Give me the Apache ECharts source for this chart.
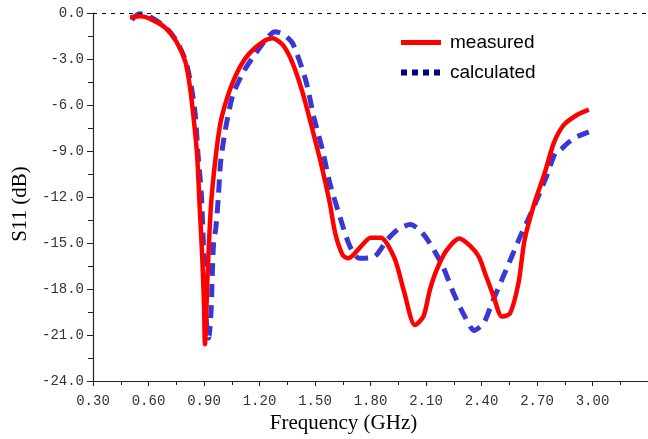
<!DOCTYPE html>
<html>
<head>
<meta charset="utf-8">
<script src="https://cdn.jsdelivr.net/npm/echarts@6/dist/echarts.min.js"></script>
<style>html,body{margin:0;padding:0;background:#fff}#c{width:648px;height:439px}</style>
</head>
<body>
<div id="c"></div>
<script>
const xTickLabels = ['0.30','0.60','0.90','1.20','1.50','1.80','2.10','2.40','2.70','3.00'];
const yTickLabels = ['0.0','-3.0','-6.0','-9.0','-12.0','-15.0','-18.0','-21.0','-24.0'];

const freqMeasured = [0.50,0.56,0.62,0.69,0.75,0.80,0.825,0.846,0.863,0.876,0.89,0.90,0.905,0.92,0.938,0.964,0.99,1.026,1.06,1.10,1.148,1.22,1.27,1.327,1.38,1.433,1.486,1.54,1.58,1.61,1.65,1.68,1.75,1.80,1.856,1.93,1.98,2.04,2.086,2.12,2.156,2.21,2.28,2.34,2.386,2.42,2.466,2.51,2.554,2.60,2.633,2.686,2.74,2.79,2.845,2.916,2.98];
const s11Measured  = [-0.30,-0.22,-0.45,-0.95,-1.85,-3.2,-4.9,-7.1,-9.3,-12.5,-15.8,-19.0,-21.6,-16.9,-12.5,-9.3,-7.1,-5.5,-4.4,-3.4,-2.6,-1.87,-1.65,-2.1,-3.3,-5.2,-7.6,-10.2,-12.4,-14.4,-15.8,-16.0,-15.2,-14.65,-14.65,-16.0,-18.1,-20.35,-19.8,-18.1,-16.8,-15.5,-14.7,-15.2,-15.9,-17.0,-18.5,-19.8,-19.6,-17.6,-14.8,-12.4,-10.5,-8.5,-7.3,-6.65,-6.3];

const freqCalculated = [0.51,0.55,0.60,0.69,0.75,0.80,0.83,0.853,0.867,0.885,0.895,0.902,0.912,0.925,0.938,0.945,0.952,0.964,0.977,0.99,1.017,1.056,1.115,1.167,1.23,1.283,1.33,1.38,1.45,1.494,1.54,1.58,1.635,1.688,1.74,1.82,1.89,1.95,2.015,2.07,2.12,2.19,2.25,2.31,2.36,2.413,2.457,2.51,2.563,2.616,2.67,2.75,2.80,2.83,2.864,2.916,2.98];
const s11Calculated  = [-0.45,-0.05,-0.2,-0.9,-1.8,-3.1,-4.7,-6.65,-9.1,-11.7,-14.5,-17.0,-20.0,-21.2,-19.5,-17.0,-15.0,-14.0,-12.1,-9.7,-7.5,-5.35,-3.8,-2.85,-1.8,-1.22,-1.4,-2.0,-4.4,-6.8,-8.9,-11.1,-13.3,-15.2,-16.0,-15.9,-14.8,-14.1,-13.8,-14.2,-15.0,-16.5,-18.3,-19.8,-20.7,-20.2,-18.9,-17.4,-15.9,-14.4,-13.0,-10.7,-9.1,-8.9,-8.5,-8.07,-7.75];

const seriesNames = ['measured','calculated'];
const referenceLevel = 0;

const pairs = (xs, ys) => xs.map((x, i) => [x, ys[i]]);

const chart = echarts.init(document.getElementById('c'), null, {renderer: 'canvas'});
const tickFont = {fontFamily: 'Liberation Mono', fontSize: 14, color: '#333'};

chart.setOption({
  animation: false,
  backgroundColor: '#fff',
  grid: {left: 93, right: -8, top: 13, bottom: 58, containLabel: false},
  legend: {
    orient: 'vertical',
    left: 393,
    top: 28,
    itemWidth: 40,
    itemHeight: 20,
    itemGap: 11,
    textStyle: {fontFamily: 'Liberation Sans', fontSize: 19, color: '#000', padding: [0, 0, 0, 4]},
    data: [
      {name: seriesNames[0], itemStyle: {opacity: 0}, lineStyle: {color: '#ff0000', width: 5, type: 'solid', opacity: 1}},
      {name: seriesNames[1], itemStyle: {opacity: 0}, lineStyle: {color: '#000080', width: 6, type: [6, 5], cap: 'butt', opacity: 1}}
    ]
  },
  xAxis: {
    type: 'value',
    min: 0.3, max: 3.3, interval: 0.3,
    name: 'Frequency (GHz)',
    nameLocation: 'middle',
    nameGap: 28,
    nameTextStyle: {fontFamily: 'Liberation Serif', fontSize: 21, color: '#000', padding: [0, 54, 0, 0]},
    axisLine: {show: true, onZero: false, lineStyle: {color: '#222', width: 1.2}},
    axisTick: {show: true, inside: false, length: 5, lineStyle: {color: '#222'}},
    minorTick: {show: true, splitNumber: 2, length: 4, lineStyle: {color: '#222'}},
    splitLine: {show: false},
    axisLabel: Object.assign({margin: 13, showMaxLabel: false,
      formatter: (v) => { const i = Math.round((v - 0.3) / 0.3); return xTickLabels[i] || ''; }}, tickFont)
  },
  yAxis: {
    type: 'value',
    min: -24, max: 0, interval: 3,
    name: 'S11 (dB)',
    nameLocation: 'middle',
    nameGap: 51,
    nameRotate: 90,
    nameTextStyle: {fontFamily: 'Liberation Serif', fontSize: 21, color: '#000', padding: [0, 14, 0, 0]},
    axisLine: {show: true, lineStyle: {color: '#222', width: 1.2}},
    axisTick: {show: true, inside: false, length: 6, lineStyle: {color: '#222'}},
    minorTick: {show: true, splitNumber: 2, length: 5, lineStyle: {color: '#222'}},
    splitLine: {show: false},
    axisLabel: Object.assign({margin: 9,
      formatter: (v) => { const i = Math.round(-v / 3); return yTickLabels[i] || ''; }}, tickFont)
  },
  series: [{
    name: seriesNames[0],
    type: 'line',
    z: 3,
    smooth: 0.25,
    symbol: 'none',
    data: pairs(freqMeasured, s11Measured),
    lineStyle: {color: '#ff0000', width: 4.5},
    itemStyle: {color: '#ff0000'},
    markLine: {
      silent: true,
      symbol: 'none',
      label: {show: false},
      lineStyle: {color: '#000', width: 1, type: [4, 5]},
      data: [{yAxis: referenceLevel}]
    }
  }, {
    name: seriesNames[1],
    type: 'line',
    z: 2,
    smooth: 0.25,
    symbol: 'none',
    data: pairs(freqCalculated, s11Calculated),
    lineStyle: {color: '#3838d4', width: 5, type: [13, 8], cap: 'butt'},
    itemStyle: {color: '#000080'}
  }]
});
</script>
</body>
</html>
